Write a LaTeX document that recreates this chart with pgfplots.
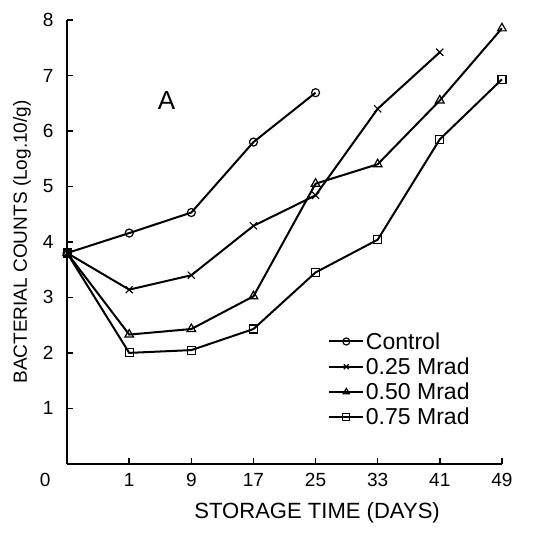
\documentclass[border=0pt]{standalone}
\usepackage{pgfplots}
\pgfplotsset{compat=1.18}
\usepackage{fontspec}
\setmainfont{Liberation Sans}
\begin{document}
\begin{tikzpicture}
\begin{axis}[
  scale only axis,
  width=434pt, height=443pt,
  xmin=0, xmax=7, ymin=0, ymax=8,
  axis lines=left,
  axis line style={line width=1.8pt, -},
  tick align=inside,
  major tick length=6pt,
  tick style={line width=1.5pt, black},
  xtick={1,...,7},
  xticklabels={1,9,17,25,33,41,49},
  extra x ticks={0},
  extra x tick labels={0},
  extra x tick style={major tick length=0pt, tick label style={xshift=-22pt}},
  ytick={1,...,8},
  /pgf/number format/assume math mode=true,
  tick label style={font=\fontsize{19}{21}\selectfont},
  xticklabel style={yshift=-6pt},
  yticklabel style={xshift=-10pt},
  xlabel={STORAGE TIME (DAYS)},
  ylabel={BACTERIAL COUNTS (Log.10/g)},
  xlabel style={font=\fontsize{22}{24}\selectfont, at={(axis description cs:0.575,-0.111)}, anchor=center},
  ylabel style={font=\fontsize{19}{21}\selectfont, at={(axis description cs:-0.104,0.5)}, anchor=center},
  every axis plot/.append style={line width=2pt, black, mark options={solid, line width=1.2pt, fill=white}, mark size=4pt},
  legend style={draw=none, fill=none, at={(0.60,0.30)}, anchor=north west,
    font=\fontsize{23}{25}\selectfont, row sep=4pt, inner sep=0pt,
    nodes={inner sep=1.5pt}},
  legend cell align=left,
  legend image code/.code={
    \draw[mark repeat=2, mark phase=2] plot coordinates {(0cm,0cm) (0.6cm,0cm) (1.2cm,0cm)};},
  legend image post style={mark size=3.5pt},
  clip=false,
]
\addplot[mark=o] coordinates {(0,3.8) (1,4.16) (2,4.53) (3,5.8) (4,6.69)};
\addlegendentry{Control}
\addplot[mark=x, mark size=5pt] coordinates {(0,3.8) (1,3.14) (2,3.4) (3,4.29) (4,4.84) (5,6.4) (6,7.42)};
\addlegendentry{0.25 Mrad}
\addplot[mark=triangle, mark size=5pt] coordinates {(0,3.8) (1,2.33) (2,2.43) (3,3.02) (4,5.05) (5,5.4) (6,6.55) (7,7.85)};
\addlegendentry{0.50 Mrad}
\addplot[mark=square] coordinates {(0,3.8) (1,2.0) (2,2.05) (3,2.43) (4,3.45) (5,4.04) (6,5.85) (7,6.93)};
\addlegendentry{0.75 Mrad}
\node[font=\fontsize{26}{28}\selectfont] at (axis cs:1.6,6.55) {A};
\path (rel axis cs:0,0) ++(-67pt,-76pt) coordinate (bbll);
\path (rel axis cs:1,1) ++(52pt,20pt) coordinate (bbur);
\end{axis}
\useasboundingbox (bbll) rectangle (bbur);
\end{tikzpicture}
\end{document}
